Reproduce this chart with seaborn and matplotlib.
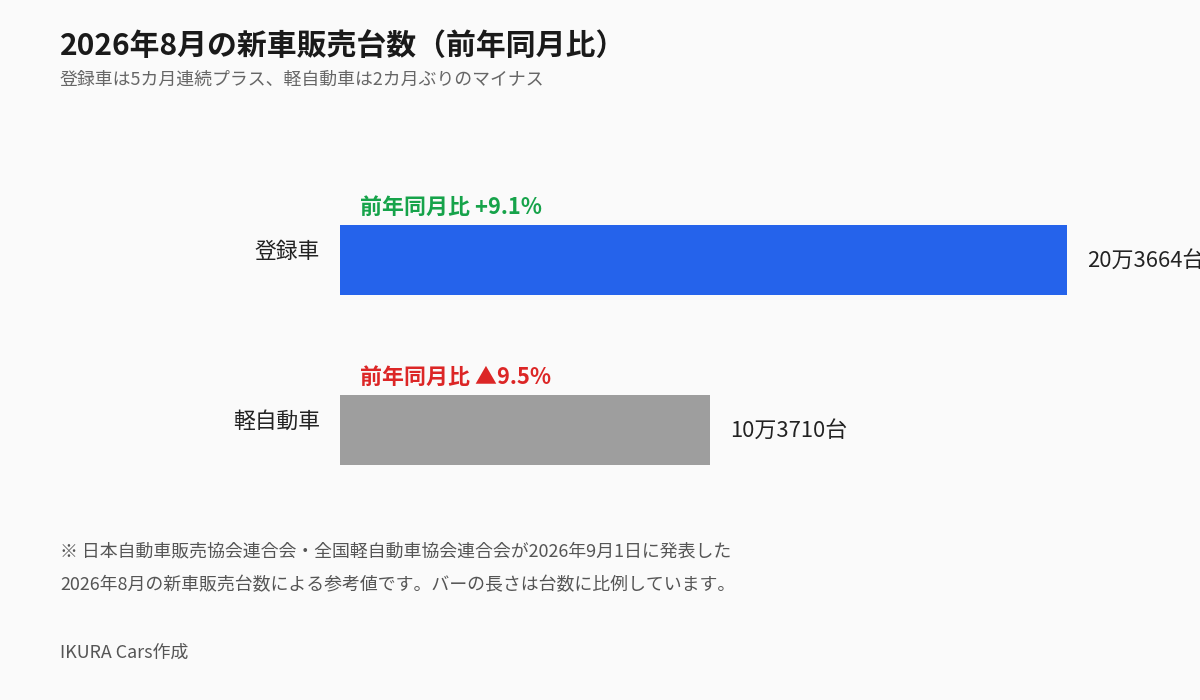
import pandas as pd
import seaborn as sns
import matplotlib.pyplot as plt

# Data
categories = ['登録車', '軽自動車']
units = [203664, 103710]
yoy = [9.1, -9.5]
bar_colors = ['#2563EB', '#9E9E9E']

title = '2026年8月の新車販売台数（前年同月比）'
subtitle = '登録車は5カ月連続プラス、軽自動車は2カ月ぶりのマイナス'
note_lines = ['※ 日本自動車販売協会連合会・全国軽自動車協会連合会が2026年9月1日に発表した',
              '2026年8月の新車販売台数による参考値です。バーの長さは台数に比例しています。']
credit = 'IKURA Cars作成'

df = pd.DataFrame({'category': categories, 'units': units, 'yoy': yoy})

sns.set_theme(style='white')
plt.rcParams['font.family'] = ['Noto Sans CJK JP', 'DejaVu Sans']

BG = '#FAFAFA'
fig = plt.figure(figsize=(12, 7), dpi=100, facecolor=BG)

# Axes: bars start at x=340px, full bar (max) ends at x=1067px
ax = fig.add_axes([340 / 1200, (700 - 515) / 700, 860 / 1200, 340 / 700])
ax.set_facecolor(BG)

bar_w = 70 / 170
sns.barplot(data=df, y='category', x='units', hue='category',
            palette=bar_colors, orient='h', width=bar_w,
            legend=False, ax=ax, saturation=1, linewidth=0)

ax.set_xlim(0, max(units) * 860 / 727)
ax.set_ylim(len(categories) - 0.5, -0.5)
ax.set_xlabel('')
ax.set_ylabel('')
ax.set_xticks([])
ax.set_yticks([])
for s in ax.spines.values():
    s.set_visible(False)

for i, row in df.iterrows():
    # category label left of the bar
    ax.annotate(row['category'], xy=(0, i), xytext=(-20, 8),
                textcoords='offset pixels', ha='right', va='center',
                fontsize=15.7, color='#222222')
    # value label right of the bar
    v = int(row['units'])
    ax.annotate(f'{v // 10000}万{v % 10000}台', xy=(v, i), xytext=(20, -1),
                textcoords='offset pixels', ha='left', va='center',
                fontsize=15.8, color='#222222', annotation_clip=False)
    # year-over-year label above the bar
    c = row['yoy']
    if c >= 0:
        txt, col = f'前年同月比 +{c:.1f}%', '#16A34A'
    else:
        txt, col = f'前年同月比 ▲{abs(c):.1f}%', '#DC2626'
    ax.annotate(txt, xy=(0, i - bar_w / 2), xytext=(20, 18),
                textcoords='offset pixels', ha='left', va='center',
                fontsize=15.8, fontweight='bold', color=col)

# Titles and notes
fig.text(60 / 1200, 1 - 46 / 700, title, ha='left', va='center',
         fontsize=21.5, fontweight='bold', color='#1a1a1a')
fig.text(60 / 1200, 1 - 80 / 700, subtitle, ha='left', va='center',
         fontsize=12.9, color='#666666')
fig.text(60 / 1200, 1 - 551 / 700, note_lines[0], ha='left', va='center',
         fontsize=12.9, color='#555555')
fig.text(60 / 1200, 1 - 585 / 700, note_lines[1], ha='left', va='center',
         fontsize=12.9, color='#555555')
fig.text(60 / 1200, 1 - 653 / 700, credit, ha='left', va='center',
         fontsize=12.9, color='#555555')

fig.savefig('out.png', dpi=100, facecolor=BG)
